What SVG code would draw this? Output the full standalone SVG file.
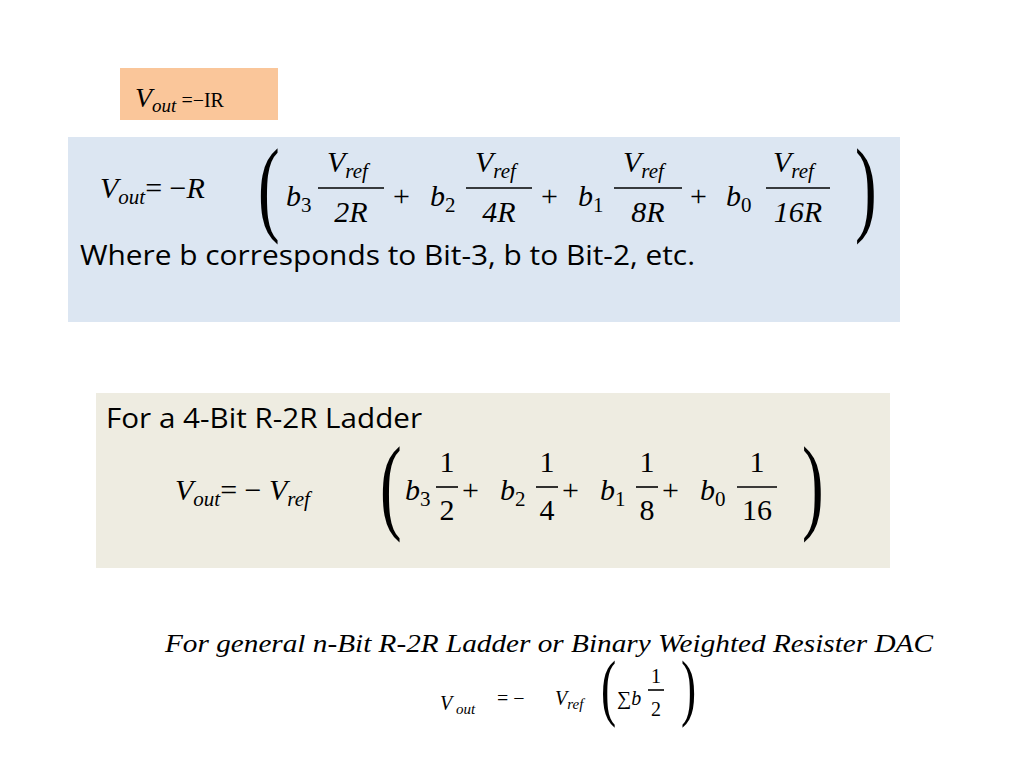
<svg xmlns="http://www.w3.org/2000/svg" width="1024" height="768" viewBox="0 0 1024 768">
<style>
.m{font-family:"Liberation Serif",serif;font-style:italic;fill:#000}
.u{font-family:"Liberation Serif",serif;font-style:normal;fill:#000}
.s{font-family:"Open Sans","Liberation Sans",sans-serif;fill:#000}
.p{font-family:"Liberation Serif",serif;fill:#000}
.fl{stroke:#000;stroke-width:1.6}
</style>
<rect width="1024" height="768" fill="#fff"/>
<rect x="120" y="68" width="158" height="52" fill="#FAC69A"/>
<text x="135" y="107" class="m" font-size="28">V<tspan font-size="19" dy="5">out</tspan><tspan class="u" font-size="20" dy="-5"> =−IR</tspan></text>
<rect x="68" y="137" width="832" height="185" fill="#DCE6F2"/>
<g font-size="30">
<text x="100" y="198" class="m">V<tspan font-size="21" dy="6">out</tspan><tspan class="u" dy="-6">=  −</tspan>R</text>
<text x="286" y="206" class="m">b<tspan font-size="21" class="u" dy="6">3</tspan></text>
<text x="327" y="172" class="m">V<tspan font-size="21" dy="6">ref</tspan></text><line class="fl" x1="318" y1="188" x2="384" y2="188"/><text x="351" y="222" class="m" text-anchor="middle">2R</text>
<text x="393" y="206" class="u">+</text>
<text x="430" y="206" class="m">b<tspan font-size="21" class="u" dy="6">2</tspan></text>
<text x="475" y="172" class="m">V<tspan font-size="21" dy="6">ref</tspan></text><line class="fl" x1="466" y1="188" x2="532" y2="188"/><text x="499" y="222" class="m" text-anchor="middle">4R</text>
<text x="541" y="206" class="u">+</text>
<text x="578" y="206" class="m">b<tspan font-size="21" class="u" dy="6">1</tspan></text>
<text x="623" y="172" class="m">V<tspan font-size="21" dy="6">ref</tspan></text><line class="fl" x1="614" y1="188" x2="682" y2="188"/><text x="648" y="222" class="m" text-anchor="middle">8R</text>
<text x="690" y="206" class="u">+</text>
<text x="726" y="206" class="m">b<tspan font-size="21" class="u" dy="6">0</tspan></text>
<text x="773" y="172" class="m">V<tspan font-size="21" dy="6">ref</tspan></text><line class="fl" x1="766" y1="188" x2="830" y2="188"/><text x="798" y="222" class="m" text-anchor="middle">16R</text>
</g>
<text class="p" font-size="100" transform="translate(258,222) scale(0.65,1.05)">(</text>
<text class="p" font-size="100" transform="translate(855,222) scale(0.65,1.05)">)</text>
<text x="80" y="265" class="s" font-size="27" textLength="615" lengthAdjust="spacingAndGlyphs">Where b corresponds to Bit-3, b to Bit-2, etc.</text>
<rect x="96" y="393" width="794" height="175" fill="#EEECE1"/>
<text x="106" y="428" class="s" font-size="27" textLength="316" lengthAdjust="spacingAndGlyphs">For a 4-Bit R-2R Ladder</text>
<g font-size="30">
<text x="175" y="500" class="m">V<tspan font-size="21" dy="6">out</tspan><tspan class="u" dy="-6">=  − </tspan>V<tspan font-size="21" dy="6">ref</tspan></text>
<text x="405" y="500" class="m">b<tspan font-size="21" class="u" dy="6">3</tspan></text>
<text x="447" y="472" class="u" text-anchor="middle">1</text><line class="fl" x1="436" y1="487" x2="458" y2="487"/><text x="447" y="520" class="u" text-anchor="middle">2</text>
<text x="462" y="500" class="u">+</text>
<text x="500" y="500" class="m">b<tspan font-size="21" class="u" dy="6">2</tspan></text>
<text x="547" y="472" class="u" text-anchor="middle">1</text><line class="fl" x1="536" y1="487" x2="558" y2="487"/><text x="547" y="520" class="u" text-anchor="middle">4</text>
<text x="562" y="500" class="u">+</text>
<text x="600" y="500" class="m">b<tspan font-size="21" class="u" dy="6">1</tspan></text>
<text x="647" y="472" class="u" text-anchor="middle">1</text><line class="fl" x1="636" y1="487" x2="658" y2="487"/><text x="647" y="520" class="u" text-anchor="middle">8</text>
<text x="662" y="500" class="u">+</text>
<text x="700" y="500" class="m">b<tspan font-size="21" class="u" dy="6">0</tspan></text>
<text x="757" y="472" class="u" text-anchor="middle">1</text><line class="fl" x1="737" y1="487" x2="777" y2="487"/><text x="757" y="520" class="u" text-anchor="middle">16</text>
</g>
<text class="p" font-size="100" transform="translate(380,520) scale(0.65,1.05)">(</text>
<text class="p" font-size="100" transform="translate(802,520) scale(0.65,1.05)">)</text>
<text x="165" y="652" class="m" font-size="25" textLength="768" lengthAdjust="spacingAndGlyphs">For general n-Bit R-2R Ladder or Binary Weighted Resister DAC</text>
<g font-size="20">
<text x="440" y="710" class="m">V<tspan font-size="15" dy="4"> out</tspan></text>
<text x="497" y="705" class="u">=  −</text>
<text x="555" y="705" class="m">V<tspan font-size="15" dy="4">ref</tspan></text>
<text x="617" y="705" class="u">∑<tspan class="m">b</tspan></text>
<text x="656" y="683" class="u" text-anchor="middle">1</text><line class="fl" x1="648" y1="690" x2="664" y2="690" stroke-width="1.2"/><text x="656" y="716" class="u" text-anchor="middle">2</text>
</g>
<text class="p" font-size="70" transform="translate(601,712) scale(0.65,1.05)">(</text>
<text class="p" font-size="70" transform="translate(681,712) scale(0.65,1.05)">)</text>
</svg>
